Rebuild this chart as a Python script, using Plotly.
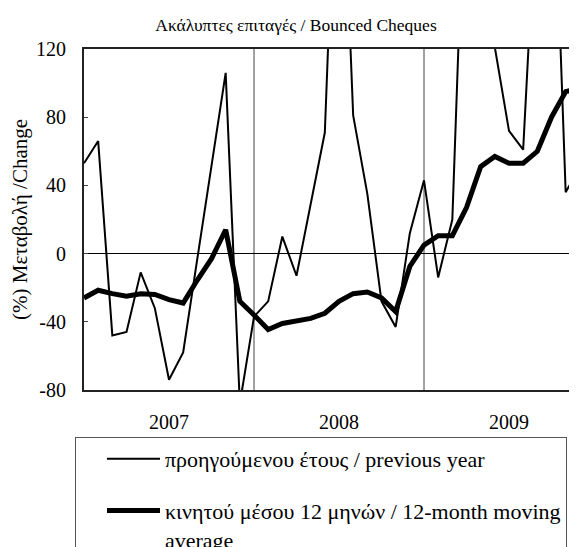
import plotly.graph_objects as go

# Monthly index positions (0 = first month of 2007)
month_index = list(range(36))

# y-o-y % change of bounced cheques (thin line)
prev_year = [53, 66, -48, -46, -11, -32, -74, -58, -3, 52, 106, -88,
             -37, -28, 10, -13, 29, 71, 290, 81, 35, -28, -43, 12,
             43, -14, 20, 256, 200, 121, 72, 61, 220, 270, 36, 51]

# 12-month moving average (thick line)
moving_avg = [-26, -21.5, -23.5, -25, -23.5, -24, -27, -29, -15.5, -3, 14, -28,
              -36, -44.5, -41, -39.5, -38, -35, -28, -23.5, -22.5, -26, -34, -7.5,
              5, 10.5, 10.5, 27, 51, 57, 53, 53, 60, 80, 95, 97]

year_positions = [6, 18, 30]
year_labels = ["2007", "2008", "2009"]
year_boundaries = [12, 24]

y_ticks = [-80, -40, 0, 40, 80, 120]
y_tick_text = ["-80", "-40", "0", "40", "80", "120"]

name_thin = "προηγούμενου έτους / previous year"
name_thick = "κινητού μέσου 12 μηνών / 12-month moving<br>average"
title_text = "Ακάλυπτες επιταγές / Bounced Cheques"
y_title = "(%) Μεταβολή /Change"

FONT = "Liberation Serif"

# The page body has an 8px margin, so the figure is sized to the visible area
W, H = 569, 539

fig = go.Figure()
fig.add_trace(go.Scatter(x=month_index, y=prev_year, mode="lines",
                         line=dict(color="black", width=2),
                         name=name_thin, legendgroup="a"))
fig.add_trace(go.Scatter(x=month_index, y=moving_avg, mode="lines",
                         line=dict(color="black", width=5),
                         name=name_thick, legendgroup="b"))

for xb in year_boundaries:
    fig.add_shape(type="line", x0=xb, x1=xb, y0=0, y1=1, xref="x", yref="paper",
                  line=dict(color="#444444", width=1), layer="below")

fig.update_layout(
    width=W, height=H,
    margin=dict(l=76, r=0, t=41, b=157),
    paper_bgcolor="white", plot_bgcolor="white",
    font=dict(family=FONT, color="black", size=20),
    title=dict(text=title_text, x=288/W, xanchor="center", y=1-17/H,
               yanchor="middle", font=dict(family=FONT, size=17.5, color="black")),
    showlegend=True,
    legend=dict(xref="paper", yref="container", x=-9/493, y=1-429/H,
                xanchor="left", yanchor="top",
                bordercolor="#555555", borderwidth=1, bgcolor="white",
                font=dict(family=FONT, size=22, color="black"),
                itemwidth=53,
                title=dict(text="\u00a0" * 4, side="left",
                           font=dict(family=FONT, size=16)),
                traceorder="grouped", tracegroupgap=20, valign="top"),
    xaxis=dict(range=[0, 34.8], tickvals=year_positions, ticktext=year_labels,
               ticks="", showgrid=False, zeroline=False, showline=True, mirror=True,
               linecolor="#222222", linewidth=2, ticklabelstandoff=13,
               automargin=False,
               tickfont=dict(family=FONT, size=20, color="black")),
    yaxis=dict(range=[-80, 120], tickvals=y_ticks, ticktext=y_tick_text,
               ticks="inside", ticklen=4,
               tickcolor="#444444", showgrid=False, zeroline=True,
               zerolinecolor="black", zerolinewidth=1, showline=True, mirror=False,
               linecolor="#222222", linewidth=2, ticklabelstandoff=12,
               automargin=False,
               tickfont=dict(family=FONT, size=20, color="black"),
               title=dict(text=y_title, standoff=3,
                          font=dict(family=FONT, size=21, color="black"))),
)

fig.write_html("out.html")
